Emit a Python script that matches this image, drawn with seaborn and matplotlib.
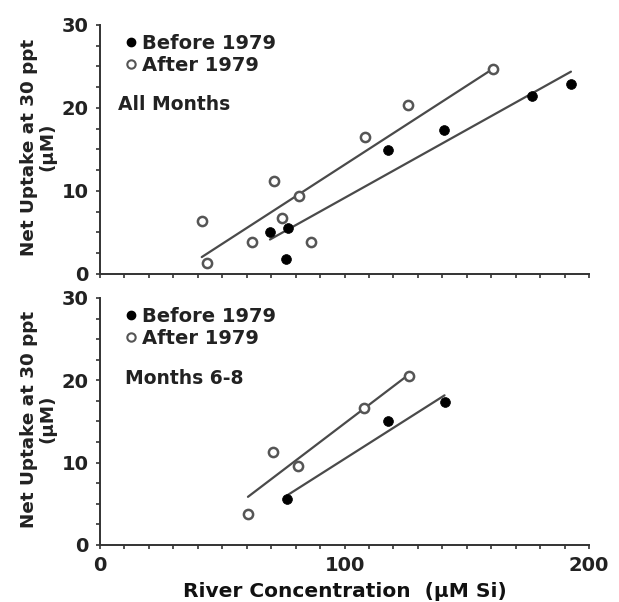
import numpy as np
import pandas as pd
import matplotlib
matplotlib.use("Agg")
import matplotlib.pyplot as plt
from matplotlib.lines import Line2D
from matplotlib.ticker import MultipleLocator
import seaborn as sns

sns.set_theme(style="ticks")
plt.rcParams['font.family'] = ['DejaVu Sans']

# ---- data: All Months panel ----
all_before_x = [69.5, 77.0, 76.0, 117.7, 140.8, 176.5, 192.6]
all_before_y = [5.0, 5.5, 1.8, 14.9, 17.3, 21.4, 22.9]
all_after_x = [41.6, 43.6, 62.2, 71.2, 74.6, 81.5, 86.3, 108.5, 126.1, 160.6]
all_after_y = [6.4, 1.3, 3.8, 11.2, 6.7, 9.4, 3.8, 16.5, 20.4, 24.7]

# ---- data: Months 6-8 panel ----
sum_before_x = [76.6, 117.6, 140.9]
sum_before_y = [5.6, 15.0, 17.4]
sum_after_x = [60.5, 70.8, 80.9, 108.1, 126.4]
sum_after_y = [3.8, 11.3, 9.6, 16.6, 20.5]

panel_titles = ["All Months", "Months 6-8"]
series_labels = ["Before 1979", "After 1979"]
y_label = "Net Uptake at 30 ppt\n(\u00b5M)"
x_label = "River Concentration  (\u00b5M Si)"
x_ticks = [0, 100, 200]
y_ticks = [0, 10, 20, 30]

panels = [
    (pd.DataFrame({"x": all_before_x, "y": all_before_y}),
     pd.DataFrame({"x": all_after_x, "y": all_after_y})),
    (pd.DataFrame({"x": sum_before_x, "y": sum_before_y}),
     pd.DataFrame({"x": sum_after_x, "y": sum_after_y})),
]

fig = plt.figure(figsize=(6.19, 6.02), dpi=100)
ax_top = fig.add_axes([0.1616, 0.5449, 0.790, 0.4136])
ax_bot = fig.add_axes([0.1616, 0.0947, 0.790, 0.4103])

line_color = "#4a4a4a"
for i, (ax, (dfb, dfa)) in enumerate(zip([ax_top, ax_bot], panels)):
    sns.regplot(data=dfa, x="x", y="y", ax=ax, scatter=False, ci=None,
                truncate=True, line_kws=dict(color=line_color, lw=1.6))
    sns.regplot(data=dfb, x="x", y="y", ax=ax, scatter=False, ci=None,
                truncate=True, line_kws=dict(color=line_color, lw=1.6))
    sns.scatterplot(data=dfa, x="x", y="y", ax=ax, marker="o", s=44,
                    facecolor="white", edgecolor="#555555", linewidth=1.8,
                    zorder=3)
    sns.scatterplot(data=dfb, x="x", y="y", ax=ax, marker="o", s=50,
                    color="black", edgecolor="black", linewidth=0.5, zorder=4)

    ax.set_xlim(0, 200)
    ax.set_ylim(0, 30)
    ax.xaxis.set_major_locator(MultipleLocator(100))
    ax.xaxis.set_minor_locator(MultipleLocator(10))
    ax.yaxis.set_major_locator(MultipleLocator(10))
    ax.yaxis.set_minor_locator(MultipleLocator(2.5))
    ax.tick_params(axis="both", which="both", direction="out", length=3,
                   width=1.2, color="#333333")
    ax.tick_params(axis="both", which="major", labelsize=14, pad=5)
    for lab in ax.get_yticklabels() + ax.get_xticklabels():
        lab.set_fontweight("bold")
        lab.set_color("#222222")
    sns.despine(ax=ax)
    for sp in ["left", "bottom"]:
        ax.spines[sp].set_linewidth(1.4)
        ax.spines[sp].set_color("#333333")
    ax.set_ylabel(y_label, fontsize=13.2, fontweight="bold", color="#222222",
                  linespacing=1.0)
    ax.yaxis.set_label_coords(-0.09, 0.51)
    ax.set_xlabel("")

    handles = [
        Line2D([], [], marker="o", ls="", markersize=6, color="black",
               markeredgecolor="black"),
        Line2D([], [], marker="o", ls="", markersize=6,
               markerfacecolor="white", markeredgecolor="#555555",
               markeredgewidth=1.5),
    ]
    leg = ax.legend(handles, series_labels, loc="upper left",
                    bbox_to_anchor=(0.035, 0.995), frameon=False,
                    handlelength=0.6, handletextpad=0.3, labelspacing=0.15,
                    borderaxespad=0.0, prop=dict(size=14, weight="bold"))
    for t in leg.get_texts():
        t.set_color("#222222")
    ax.text(0.036 if i == 0 else 0.051, 0.679 if i == 0 else 0.676,
            panel_titles[i], transform=ax.transAxes, fontsize=13.5,
            fontweight="bold", color="#222222", va="center", ha="left")

ax_top.set_xticklabels([])
ax_bot.set_xticks(x_ticks)
ax_bot.set_xticklabels([str(v) for v in x_ticks])
for lab in ax_bot.get_xticklabels():
    lab.set_fontweight("bold")
    lab.set_color("#222222")
ax_bot.set_xlabel(x_label, fontsize=14.5, fontweight="bold", color="#111111",
                  labelpad=5)

fig.savefig("out.png", dpi=100, facecolor="white")
